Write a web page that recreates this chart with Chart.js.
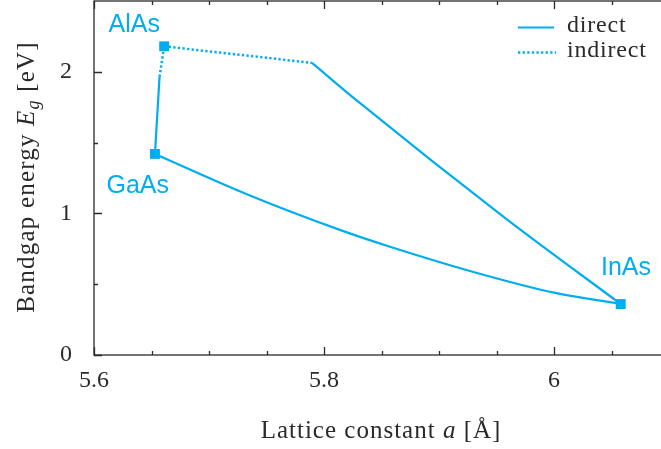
<!DOCTYPE html>
<html>
<head>
<meta charset="utf-8">
<script src="https://cdn.jsdelivr.net/npm/chart.js@4/dist/chart.umd.min.js"></script>
<style>
  html, body { margin: 0; padding: 0; background: #fff; overflow: hidden; }
  #wrap { width: 661px; height: 449px; overflow: hidden; }
  canvas { display: block; }
</style>
</head>
<body>
<div id="wrap"><canvas id="c" width="670" height="449"></canvas></div>
<script>
// Binary end points: lattice constant (Å) and band gap (eV)
const materials = ['GaAs', 'AlAs', 'InAs'];
const latticeA  = [5.653, 5.661, 6.058];
const bandgap   = [1.42, 2.18, 0.36];

// Ga(1-x)In(x)As, direct gap
const gaInAsA  = [5.653, 5.734, 5.815, 5.856, 5.937, 6.0, 6.058];
const gaInAsEg = [1.42, 1.132, 0.88, 0.768, 0.57, 0.44, 0.36];

// Al(1-x)Ga(x)As: direct part, then indirect part up to AlAs
const alGaAsDirA   = [5.653, 5.657];
const alGaAsDirEg  = [1.42, 1.965];
const alGaAsIndA   = [5.657, 5.661];
const alGaAsIndEg  = [1.965, 2.18];

// Al(1-x)In(x)As: indirect part from AlAs, then direct part down to InAs
const alInAsIndA   = [5.661, 5.7896];
const alInAsIndEg  = [2.18, 2.063];
const alInAsDirA   = [5.7896, 5.8287, 5.959, 6.058];
const alInAsDirEg  = [2.063, 1.796, 0.958, 0.36];

// Axis ticks
const xMajorTicks = [5.6, 5.8, 6.0];
const xMinorTicks = [5.65, 5.7, 5.75, 5.85, 5.9, 5.95, 6.05];
const yMajorTicks = [0, 1, 2];
const yMinorTicks = [0.5, 1.5];

const CYAN = '#00aeef';
const AXIS = '#2a2a2a';
const SERIF = '"Liberation Serif", "Times New Roman", serif';
const SANS = '"Liberation Sans", Arial, sans-serif';
const DOTS = [2.3, 2.3];

const pts = (xs, ys) => xs.map((x, i) => ({ x, y: ys[i] }));

function lineSet(xs, ys, dashed) {
  return {
    data: pts(xs, ys),
    showLine: true,
    borderColor: CYAN,
    borderWidth: dashed ? 2.5 : 2.2,
    borderDash: dashed ? DOTS : [],
    pointRadius: 0,
    cubicInterpolationMode: 'monotone',
    fill: false
  };
}

// Inward ticks, frame, labels, legend and axis titles
const decor = {
  id: 'decor',
  afterDatasetsDraw(chart) {
    const { ctx, chartArea: a, scales: { x, y } } = chart;
    ctx.save();
    ctx.strokeStyle = AXIS;
    ctx.lineWidth = 1.3;
    ctx.strokeRect(a.left, a.top, a.right - a.left, a.bottom - a.top);

    const xt = (v, len) => {
      const px = Math.round(x.getPixelForValue(v)) + 0.5;
      ctx.beginPath();
      ctx.moveTo(px, a.bottom); ctx.lineTo(px, a.bottom - len);
      ctx.moveTo(px, a.top); ctx.lineTo(px, a.top + len);
      ctx.stroke();
    };
    const yt = (v, len) => {
      const py = Math.round(y.getPixelForValue(v)) + 0.5;
      ctx.beginPath();
      ctx.moveTo(a.left, py); ctx.lineTo(a.left + len, py);
      ctx.moveTo(a.right, py); ctx.lineTo(a.right - len, py);
      ctx.stroke();
    };
    xMajorTicks.forEach(v => xt(v, 8));
    xMinorTicks.forEach(v => xt(v, 4));
    yMajorTicks.forEach(v => yt(v, 8));
    yMinorTicks.forEach(v => yt(v, 4));

    // material names
    ctx.fillStyle = CYAN;
    ctx.font = '25px ' + SANS;
    ctx.textAlign = 'center';
    ctx.textBaseline = 'middle';
    const nameOffsets = { GaAs: [-0.015, -0.23], AlAs: [-0.026, 0.15], InAs: [0.0046, 0.253] };
    materials.forEach((m, i) => {
      const o = nameOffsets[m];
      ctx.fillText(m, x.getPixelForValue(latticeA[i] + o[0]), y.getPixelForValue(bandgap[i] + o[1]));
    });

    // legend
    ctx.strokeStyle = CYAN;
    ctx.lineWidth = 2.2;
    ctx.setLineDash([]);
    ctx.beginPath(); ctx.moveTo(518, 27.5); ctx.lineTo(554, 27.5); ctx.stroke();
    ctx.lineWidth = 2.5;
    ctx.setLineDash(DOTS);
    ctx.beginPath(); ctx.moveTo(518, 52.5); ctx.lineTo(556, 52.5); ctx.stroke();
    ctx.setLineDash([]);
    ctx.fillStyle = AXIS;
    ctx.font = '24px ' + SERIF;
    ctx.textAlign = 'left';
    ctx.letterSpacing = '0.8px';
    ctx.fillText('direct', 567, 26);
    ctx.fillText('indirect', 567, 51);

    // axis titles, built from runs of upright / italic text
    const drawRuns = (runs, cx, cy) => {
      let w = 0;
      runs.forEach(r => { ctx.font = r.font; w += ctx.measureText(r.t).width; });
      let px = cx - w / 2;
      runs.forEach(r => {
        ctx.font = r.font;
        ctx.fillText(r.t, px, cy + (r.dy || 0));
        px += ctx.measureText(r.t).width;
      });
    };
    ctx.textAlign = 'left';
    ctx.textBaseline = 'alphabetic';
    ctx.letterSpacing = '1px';
    drawRuns([
      { t: 'Lattice constant ', font: '25px ' + SERIF },
      { t: 'a', font: 'italic 25px ' + SERIF },
      { t: ' [Å]', font: '25px ' + SERIF }
    ], 381, 438);

    ctx.letterSpacing = '1.2px';
    ctx.translate(34, 177);
    ctx.rotate(-Math.PI / 2);
    drawRuns([
      { t: 'Bandgap energy ', font: '25px ' + SERIF },
      { t: 'E', font: 'italic 25px ' + SERIF },
      { t: 'g', font: 'italic 18px ' + SERIF, dy: 5 },
      { t: ' [eV]', font: '25px ' + SERIF }
    ], 0, 0);
    ctx.restore();
  }
};

new Chart(document.getElementById('c'), {
  type: 'scatter',
  data: {
    datasets: [
      lineSet(gaInAsA, gaInAsEg, false),
      lineSet(alGaAsDirA, alGaAsDirEg, false),
      lineSet(alGaAsIndA, alGaAsIndEg, true),
      lineSet(alInAsIndA, alInAsIndEg, true),
      lineSet(alInAsDirA, alInAsDirEg, false),
      {
        data: pts(latticeA, bandgap),
        showLine: false,
        pointStyle: 'rect',
        pointRadius: 7,
        backgroundColor: CYAN,
        borderColor: CYAN,
        borderWidth: 0
      }
    ]
  },
  options: {
    responsive: false,
    animation: false,
    layout: { autoPadding: false, padding: { top: 1, right: 1, left: 0, bottom: 0 } },
    plugins: { legend: { display: false }, tooltip: { enabled: false } },
    scales: {
      x: {
        type: 'linear', min: 5.6, max: 6.1,
        grid: { display: false, drawTicks: false },
        border: { display: false },
        afterFit: s => { s.height = 94; s.paddingLeft = 0; s.paddingRight = 0; },
        ticks: {
          stepSize: 0.2, includeBounds: false, padding: 11, maxRotation: 0,
          color: AXIS, font: { family: SERIF, size: 24 },
          callback: v => String(Math.round(v * 10) / 10)
        }
      },
      y: {
        type: 'linear', min: 0, max: 2.5,
        grid: { display: false, drawTicks: false },
        border: { display: false },
        afterFit: s => { s.width = 94; s.paddingTop = 0; s.paddingBottom = 0; },
        ticks: {
          stepSize: 1, includeBounds: false, padding: 22,
          color: AXIS, font: { family: SERIF, size: 24 },
          callback: v => String(v)
        }
      }
    }
  },
  plugins: [decor]
});
</script>
</body>
</html>
